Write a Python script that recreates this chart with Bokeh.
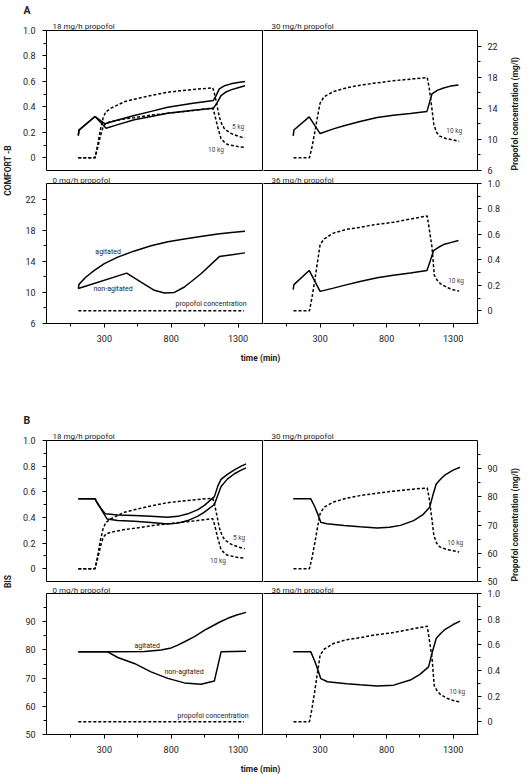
import math
from bokeh.plotting import figure
from bokeh.models import Range1d, LinearAxis, FixedTicker
from bokeh.layouts import row, column
from bokeh.embed import file_html
from bokeh.resources import INLINE
from bokeh.core.properties import value

FONT = "Roboto"
TXT = "#222222"

# ---------------- data ----------------
# propofol concentration (mg/l)
p18_5_t = [105, 230, 250, 270, 290, 310, 350, 450, 524, 650, 774, 950, 1110, 1120, 1135, 1160, 1180, 1200, 1250, 1300, 1350]
p18_5_v = [0, 0, 0.10, 0.22, 0.31, 0.36, 0.39, 0.44, 0.46, 0.49, 0.515, 0.535, 0.55, 0.52, 0.45, 0.32, 0.26, 0.225, 0.19, 0.17, 0.155]
p18_10_t = [105, 230, 250, 270, 290, 310, 350, 450, 524, 650, 774, 950, 1110, 1125, 1148, 1173, 1200, 1223, 1300, 1350]
p18_10_v = [0, 0, 0.08, 0.17, 0.24, 0.27, 0.285, 0.305, 0.315, 0.335, 0.35, 0.37, 0.39, 0.34, 0.24, 0.15, 0.12, 0.104, 0.088, 0.082]
p30_t = [100, 220, 240, 260, 280, 300, 330, 400, 500, 600, 700, 850, 1000, 1105, 1120, 1140, 1155, 1175, 1200, 1250, 1300, 1345]
p30_v = [0, 0, 0.09, 0.2, 0.32, 0.43, 0.48, 0.52, 0.55, 0.57, 0.585, 0.605, 0.62, 0.63, 0.55, 0.39, 0.26, 0.2, 0.17, 0.15, 0.14, 0.13]
p36_t = [100, 220, 240, 260, 280, 300, 330, 400, 500, 600, 700, 850, 1000, 1105, 1115, 1141, 1158, 1180, 1203, 1253, 1300, 1345]
p36_v = [0, 0, 0.11, 0.24, 0.38, 0.52, 0.565, 0.61, 0.64, 0.655, 0.675, 0.695, 0.725, 0.745, 0.68, 0.5, 0.28, 0.24, 0.214, 0.183, 0.165, 0.155]
p0_t = [105, 1345]
p0_v = [0, 0]

# COMFORT-B
c18a_t = [105, 110, 230, 305, 400, 524, 650, 774, 950, 1115, 1135, 1160, 1200, 1247, 1300, 1352]
c18a_v = [10.5, 11.2, 12.94, 12.0, 12.5, 13.07, 13.6, 14.14, 14.6, 15.0, 15.6, 16.5, 16.9, 17.14, 17.3, 17.44]
c18b_t = [105, 110, 230, 313, 400, 524, 650, 774, 950, 1115, 1140, 1173, 1210, 1247, 1300, 1352]
c18b_v = [10.5, 11.2, 12.94, 11.44, 11.9, 12.52, 12.95, 13.37, 13.7, 14.0, 14.6, 15.64, 16.1, 16.37, 16.65, 16.89]
c30_t = [98, 103, 218, 300, 400, 480, 600, 729, 850, 978, 1103, 1120, 1141, 1180, 1228, 1280, 1340]
c30_v = [10.45, 11.2, 12.9, 10.75, 11.35, 11.75, 12.3, 12.82, 13.1, 13.34, 13.6, 14.6, 15.86, 16.3, 16.6, 16.85, 17.0]
c36_t = [98, 103, 218, 300, 400, 480, 600, 729, 850, 978, 1103, 1125, 1153, 1190, 1228, 1280, 1340]
c36_v = [10.35, 11.0, 12.82, 10.13, 10.55, 10.9, 11.4, 11.89, 12.2, 12.48, 12.82, 13.9, 15.38, 15.8, 16.15, 16.4, 16.66]
c0ag_t = [105, 110, 160, 225, 300, 400, 520, 649, 775, 899, 1020, 1148, 1250, 1352]
c0ag_v = [10.48, 11.03, 11.95, 12.82, 13.7, 14.53, 15.3, 16.0, 16.5, 16.87, 17.2, 17.5, 17.7, 17.86]
c0na_t = [105, 467, 574, 674, 749, 824, 899, 1023, 1160, 1352]
c0na_v = [10.5, 12.48, 11.33, 10.27, 9.92, 10.0, 10.69, 12.4, 14.6, 15.08]

# BIS
b18a_t = [105, 230, 250, 280, 307, 400, 524, 650, 774, 850, 924, 1000, 1048, 1123, 1150, 1173, 1220, 1273, 1320, 1360]
b18a_v = [79.3, 79.3, 77.5, 75.5, 74.0, 73.6, 73.4, 73.1, 72.8, 73.1, 74.0, 75.5, 77.0, 80.1, 84.0, 86.2, 88.0, 89.6, 90.8, 91.7]
b18b_t = [105, 230, 260, 290, 320, 400, 524, 650, 774, 850, 924, 1000, 1048, 1123, 1150, 1173, 1220, 1273, 1320, 1360]
b18b_v = [79.3, 79.3, 77.0, 74.5, 72.2, 71.6, 71.4, 70.9, 70.4, 70.7, 71.6, 73.2, 74.6, 77.3, 80.8, 83.7, 86.3, 88.2, 89.4, 90.3]
b30_t = [98, 230, 260, 290, 305, 350, 480, 600, 729, 820, 904, 1003, 1070, 1123, 1150, 1173, 1210, 1240, 1300, 1352]
b30_v = [79.3, 79.3, 76.5, 73.0, 71.0, 70.5, 69.9, 69.4, 69.0, 69.2, 69.9, 71.6, 73.6, 76.3, 81.0, 84.6, 86.5, 87.8, 89.5, 90.5]
b36_t = [98, 230, 260, 290, 305, 355, 500, 600, 729, 853, 978, 1050, 1115, 1145, 1173, 1210, 1240, 1300, 1352]
b36_v = [79.3, 79.3, 76.0, 72.0, 69.8, 68.7, 68.0, 67.6, 67.2, 67.5, 69.3, 71.3, 74.0, 79.5, 84.1, 86.0, 87.3, 89.0, 90.2]
b0ag_t = [105, 400, 600, 724, 800, 849, 900, 974, 1050, 1098, 1160, 1223, 1290, 1360]
b0ag_v = [79.3, 79.3, 79.4, 79.95, 80.7, 81.7, 82.9, 84.7, 87.0, 88.2, 89.8, 91.2, 92.4, 93.3]
b0na_t = [105, 325, 400, 524, 649, 774, 899, 1023, 1123, 1173, 1360]
b0na_v = [79.3, 79.3, 77.3, 75.2, 72.2, 69.9, 68.3, 67.8, 69.0, 79.3, 79.5]

# ticks and labels
x_ticks = [300, 800, 1300]
x_minor = [-200, 50, 550, 1050]
p_ticks = [0, 0.2, 0.4, 0.6, 0.8, 1.0]
p_tick_labels = ["0", "0.2", "0.4", "0.6", "0.8", "1.0"]
p_minor = [0.1, 0.3, 0.5, 0.7, 0.9]
c_ticks = [6, 10, 14, 18, 22]
c_tick_labels = ["6", "10", "14", "18", "22"]
c_minor = [8, 12, 16, 20]
b_ticks = [50, 60, 70, 80, 90]
b_tick_labels = ["50", "60", "70", "80", "90"]
b_minor = [55, 65, 75, 85, 95]

T_RANGE = (-133, 1483)
P_RANGE = (-0.1, 1.0)
C_RANGE = (6, 24)
B_RANGE = (50, 100)

# page layout (pixels): panel boxes
A_TOP = (30, 170)
A_BOT = (183, 323)
B_TOP = (440, 581)
B_BOT = (593, 734)


def sub(box, rng):
    return {"top": box[0], "bot": box[1], "v0": rng[0], "v1": rng[1]}


def to_px(s, v):
    return s["bot"] - (v - s["v0"]) / (s["v1"] - s["v0"]) * (s["bot"] - s["top"])


def frame_range(s, f_top, f_bot):
    k = (s["v1"] - s["v0"]) / (s["bot"] - s["top"])
    return Range1d(s["v0"] + (s["bot"] - f_bot) * k, s["v0"] + (s["bot"] - f_top) * k)


def make_col(left, f_top, f_bot, bottom_border, subs, boxes, axis_specs, axis_label):
    if left:
        f_l, f_r, bx_l, bx_r, width, bl, br = 44, 263, 45, 262, 263, 44, 0
    else:
        f_l, f_r, bx_l, bx_r, width, bl, br = 263, 478, 262, 477, 268, 0, 53
    k = (T_RANGE[1] - T_RANGE[0]) / (bx_r - bx_l)
    xr = Range1d(T_RANGE[0] + (f_l - bx_l) * k, T_RANGE[0] + (f_r - bx_l) * k)
    p = figure(width=width, height=(f_bot - f_top) + bottom_border,
               x_range=xr, y_range=Range1d(f_bot, f_top),
               x_axis_location=None, y_axis_location=None, title=None,
               min_border_left=bl, min_border_right=br, min_border_top=0,
               min_border_bottom=bottom_border,
               output_backend="svg", toolbar_location=None)
    p.xgrid.visible = False
    p.ygrid.visible = False
    p.outline_line_color = None
    p.background_fill_color = "white"
    p.border_fill_color = "white"
    p.extra_x_ranges = {"px": Range1d(f_l, f_r)}
    p.extra_y_ranges = {name: frame_range(s, f_top, f_bot) for name, s in subs.items()}

    for (bt, bb) in boxes:
        p.quad(left=bx_l, right=bx_r, top=bt, bottom=bb, x_range_name="px",
               fill_color=None, line_color="black", line_width=1)

    ticks, minor, overrides = [], [], {}
    for sname, vals, labels, mvals in axis_specs:
        s = subs[sname]
        for v, lab in zip(vals, labels):
            y = round(to_px(s, v), 3)
            ticks.append(y)
            overrides[y] = lab
        for v in mvals:
            minor.append(round(to_px(s, v), 3))
    ax = LinearAxis(ticker=FixedTicker(ticks=ticks, minor_ticks=minor),
                    major_label_overrides=overrides)
    ax.axis_line_color = None
    ax.major_tick_in = 1
    ax.major_tick_out = 3
    ax.minor_tick_in = 1
    ax.minor_tick_out = 2
    ax.major_tick_line_color = "black"
    ax.minor_tick_line_color = "black"
    ax.major_label_text_font = FONT
    ax.major_label_text_font_size = "9px"
    ax.major_label_text_color = TXT
    ax.major_label_standoff = 7 if left else 6
    ax.axis_label = axis_label
    ax.axis_label_text_font = FONT
    ax.axis_label_text_font_size = "8.5px"
    ax.axis_label_text_font_style = "bold"
    ax.axis_label_text_color = TXT
    if left:
        ax.axis_label_standoff = 7
        p.add_layout(ax, "left")
    else:
        ax.axis_label_standoff = 12
        ax.axis_label_orientation = math.pi / 2
        p.add_layout(ax, "right")

    xa = LinearAxis(ticker=FixedTicker(ticks=x_ticks, minor_ticks=x_minor))
    xa.axis_line_color = "black"
    xa.major_tick_in = 0
    xa.major_tick_out = 4
    xa.minor_tick_in = 0
    xa.minor_tick_out = 3
    xa.major_label_text_font = FONT
    xa.major_label_text_font_size = "9px"
    xa.major_label_text_color = TXT
    xa.major_label_standoff = 7
    p.add_layout(xa, "below")
    return p


def solid(p, t, v, rng):
    p.line(t, v, line_color="black", line_width=1.5, y_range_name=rng)


def dashed(p, t, v, rng):
    p.line(t, v, line_color="black", line_width=1.5, line_dash="3 2", y_range_name=rng)


def strip(p, text, x_px, base_px):
    p.text(x=[x_px], y=[base_px], text=[text], x_range_name="px",
           text_font=value(FONT), text_font_size="8px", text_color=TXT,
           text_align="left", text_baseline="alphabetic")


def inner(p, x, y, text, rng, size="6.5px", color="#444444"):
    p.text(x=[x], y=[y], text=[text], y_range_name=rng, text_font=value(FONT),
           text_font_size=size, text_color=color, text_align="center",
           text_baseline="middle")


def text_fig(h, page_top, x, y, text, size, style="bold", align="center", baseline="middle"):
    f = figure(width=531, height=h, x_range=Range1d(0, 531),
               y_range=Range1d(page_top + h, page_top),
               x_axis_location=None, y_axis_location=None, title=None,
               min_border_left=0, min_border_right=0, min_border_top=0, min_border_bottom=0,
               output_backend="svg", toolbar_location=None)
    f.xgrid.visible = False
    f.ygrid.visible = False
    f.outline_line_color = None
    f.text(x=[x], y=[y], text=[text], text_font=value(FONT), text_font_size=size,
           text_font_style=style, text_color=TXT, text_align=align, text_baseline=baseline)
    return f


# ---------------- panel A ----------------
subsA = {"ptop": sub(A_TOP, P_RANGE), "ctop": sub(A_TOP, C_RANGE),
         "pbot": sub(A_BOT, P_RANGE), "cbot": sub(A_BOT, C_RANGE)}

AL = make_col(True, 17, 323, 25, subsA, [A_TOP, A_BOT],
              [("ptop", p_ticks, p_tick_labels, p_minor),
               ("cbot", c_ticks, c_tick_labels, c_minor)], "COMFORT -B")
dashed(AL, p18_5_t, p18_5_v, "ptop")
dashed(AL, p18_10_t, p18_10_v, "ptop")
solid(AL, c18a_t, c18a_v, "ctop")
solid(AL, c18b_t, c18b_v, "ctop")
inner(AL, 1300, 0.238, "5 kg", "ptop")
inner(AL, 1135, 0.065, "10 kg", "ptop")
dashed(AL, p0_t, p0_v, "pbot")
solid(AL, c0ag_t, c0ag_v, "cbot")
solid(AL, c0na_t, c0na_v, "cbot")
inner(AL, 328, 15.25, "agitated", "cbot", "7px", TXT)
inner(AL, 365, 10.4, "non-agitated", "cbot", "7px", TXT)
inner(AL, 1098, 8.47, "propofol concentration", "cbot", "7px", TXT)
strip(AL, "18 mg/h propofol", 51, 26)
strip(AL, "0 mg/h propofol", 51, 180)

AR = make_col(False, 17, 323, 25, subsA, [A_TOP, A_BOT],
              [("ctop", c_ticks, c_tick_labels, c_minor),
               ("pbot", p_ticks, p_tick_labels, p_minor)], "Propofol concentration (mg/l)")
dashed(AR, p30_t, p30_v, "ptop")
solid(AR, c30_t, c30_v, "ctop")
inner(AR, 1308, 0.207, "10 kg", "ptop")
dashed(AR, p36_t, p36_v, "pbot")
solid(AR, c36_t, c36_v, "cbot")
inner(AR, 1322, 0.232, "10 kg", "pbot")
strip(AR, "30 mg/h propofol", 271, 26)
strip(AR, "36 mg/h propofol", 271, 180)

# ---------------- panel B ----------------
subsB = {"ptop": sub(B_TOP, P_RANGE), "btop": sub(B_TOP, B_RANGE),
         "pbot": sub(B_BOT, P_RANGE), "bbot": sub(B_BOT, B_RANGE)}

BL = make_col(True, 428, 734, 23, subsB, [B_TOP, B_BOT],
              [("ptop", p_ticks, p_tick_labels, p_minor),
               ("bbot", b_ticks, b_tick_labels, b_minor)], "BIS")
dashed(BL, p18_5_t, p18_5_v, "ptop")
dashed(BL, p18_10_t, p18_10_v, "ptop")
solid(BL, b18a_t, b18a_v, "btop")
solid(BL, b18b_t, b18b_v, "btop")
inner(BL, 1308, 0.24, "5 kg", "ptop")
inner(BL, 1150, 0.06, "10 kg", "ptop")
dashed(BL, p0_t, p0_v, "pbot")
solid(BL, b0ag_t, b0ag_v, "bbot")
solid(BL, b0na_t, b0na_v, "bbot")
inner(BL, 620, 81.4, "agitated", "bbot", "7px", TXT)
inner(BL, 896, 72.1, "non-agitated", "bbot", "7px", TXT)
inner(BL, 1113, 56.5, "propofol concentration", "bbot", "7px", TXT)
strip(BL, "18 mg/h propofol", 51, 436)
strip(BL, "0 mg/h propofol", 51, 590)

BR = make_col(False, 428, 734, 23, subsB, [B_TOP, B_BOT],
              [("btop", b_ticks, b_tick_labels, b_minor),
               ("pbot", p_ticks, p_tick_labels, p_minor)], "Propofol concentration (mg/l)")
dashed(BR, p30_t, p30_v, "ptop")
solid(BR, b30_t, b30_v, "btop")
inner(BR, 1315, 0.2, "10 kg", "ptop")
dashed(BR, p36_t, p36_v, "pbot")
solid(BR, b36_t, b36_v, "bbot")
inner(BR, 1330, 0.234, "10 kg", "pbot")
strip(BR, "30 mg/h propofol", 271, 436)
strip(BR, "36 mg/h propofol", 271, 590)

# ---------------- letters and time labels ----------------
letterA = text_fig(17, 0, 23, 10, "A", "10.5px", align="left", baseline="middle")
timeA = text_fig(20, 348, 260, 357, "time (min)", "8.5px")
letterB = text_fig(60, 368, 23, 420, "B", "10.5px", align="left", baseline="middle")
timeB = text_fig(18, 757, 260, 768, "time (min)", "8.5px")

layout = column(
    letterA,
    row(AL, AR),
    timeA,
    letterB,
    row(BL, BR),
    timeB,
)

open("out.html", "w").write(file_html(layout, INLINE))
